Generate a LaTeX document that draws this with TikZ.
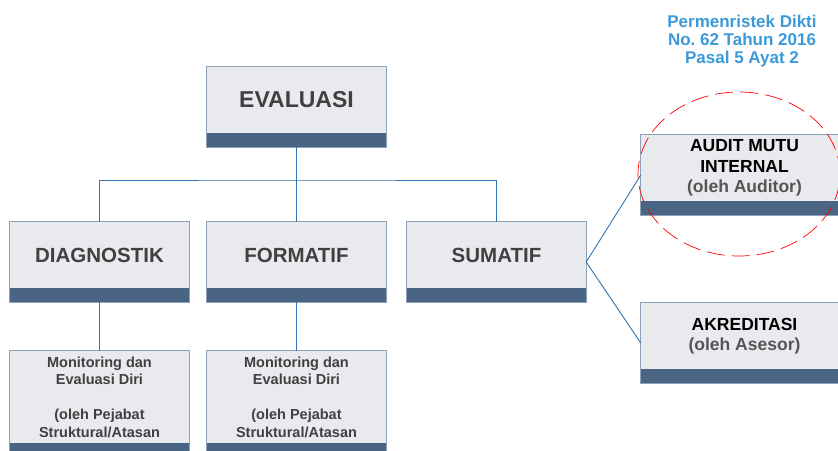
\documentclass[tikz,border=0pt]{standalone}
\usepackage{fontspec}
\setmainfont{Liberation Sans}
\definecolor{isi}{HTML}{E8EAEE}
\definecolor{pita}{HTML}{4A6583}
\definecolor{garis}{HTML}{8EA1B6}
\definecolor{hubung}{HTML}{2F73B0}
\definecolor{teks}{HTML}{404040}
\definecolor{abu}{HTML}{555555}
\definecolor{biru}{HTML}{3A9AD9}
\begin{document}
\begin{tikzpicture}[x=1pt, y=-1pt,
    kotak/.style={fill=isi, minimum width=179pt, minimum height=66pt, inner sep=0pt, align=center, text=teks},
    jenis/.style={kotak, font=\fontsize{20.5}{24}\selectfont\bfseries},
    hasil/.style={kotak, minimum width=207pt, text=black, font=\fontsize{17.5}{20.5}\selectfont\bfseries},
    hubung/.style={draw=hubung, line width=0.9pt}]
    \useasboundingbox (0,0) rectangle (838,450);
    \clip (0,0) rectangle (838,450);

    % Kotak utama
    \node[kotak, font=\fontsize{23}{27}\selectfont\bfseries] (eval) at (296.5,100) {EVALUASI};

    % Tiga jenis evaluasi
    \node[jenis] (diag) at (99.5,255) {DIAGNOSTIK};
    \node[jenis] (form) at (296.5,255) {FORMATIF};
    \node[jenis] (sum) at (496.5,255) {SUMATIF};

    % Monitoring dan evaluasi diri
    \foreach \n/\x in {monA/99.5, monB/296.5} {
        \node[kotak, minimum height=92pt, font=\fontsize{14.5}{17.5}\selectfont\bfseries] (\n) at (\x,397)
            {Monitoring dan\\Evaluasi Diri\\[17.5pt](oleh Pejabat\\Struktural/Atasan};
    }

    % Audit dan akreditasi
    \node[hasil] (audit) at (744.5,168) {AUDIT MUTU\\INTERNAL\\\textcolor{abu}{(oleh Auditor)}};
    \node[hasil] (akred) at (744.5,336) {AKREDITASI\\\textcolor{abu}{(oleh Asesor)}};

    % Pita bawah dan bingkai
    \foreach \n in {eval,diag,form,sum,monA,monB,audit,akred} {
        \fill[pita] (\n.south west) rectangle ([yshift=-14pt]\n.south east);
        \draw[garis, line width=0.8pt] (\n.north west) rectangle ([yshift=-14pt]\n.south east);
    }

    % Penghubung
    \coordinate (cabang) at (296.5,180);
    \draw[hubung] ([yshift=-14pt]eval.south) -- (form.north);
    \draw[hubung] (diag.north) |- (cabang) -| (sum.north);
    \draw[hubung] ([yshift=-14pt]diag.south) -- (monA.north);
    \draw[hubung] ([yshift=-14pt]form.south) -- (monB.north);
    \draw[hubung] ([yshift=-7pt]audit.west) -- ([yshift=-7pt]sum.east) -- ([yshift=-7pt]akred.west);

    % Lingkaran merah
    \draw[red, line width=0.7pt, dash pattern=on 18pt off 7pt] (739,174) ellipse [x radius=101pt, y radius=82pt];

    % Dasar hukum
    \node[text=biru, align=center, font=\fontsize{17}{18}\selectfont\bfseries] (permen) at (742,41)
        {Permenristek Dikti\\No.\ 62 Tahun 2016\\Pasal 5 Ayat 2};
\end{tikzpicture}
\end{document}
